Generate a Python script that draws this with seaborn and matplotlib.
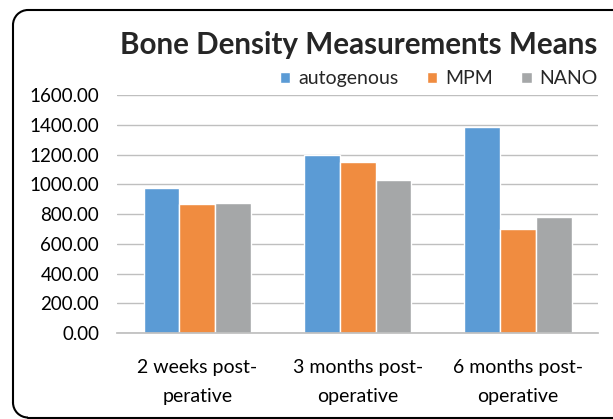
import pandas as pd
import matplotlib.pyplot as plt
import matplotlib.patches as mpatches
from matplotlib.lines import Line2D
from matplotlib.ticker import FuncFormatter
import seaborn as sns

# chart data
periods = ["2 weeks post-\nperative", "3 months post-\noperative", "6 months post-\noperative"]
groups = ["autogenous", "MPM", "NANO"]
autogenous = [978, 1200, 1388]
mpm = [868, 1153, 700]
nano = [878, 1030, 780]
colors = ["#5B9BD5", "#F08C40", "#A5A7A8"]

def main():
    rows = []
    for g, vals in zip(groups, [autogenous, mpm, nano]):
        for p, v in zip(periods, vals):
            rows.append({"period": p, "group": g, "value": v})
    df = pd.DataFrame(rows)

    sns.set_theme(style="white")
    plt.rcParams["font.family"] = ["Lato", "DejaVu Sans"]

    fig = plt.figure(figsize=(6.13, 4.19), dpi=100)
    ax = fig.add_axes([0.191, 0.205, 0.785, 0.568])

    sns.barplot(data=df, x="period", y="value", hue="group", order=periods,
                hue_order=groups, palette=colors, width=0.67, saturation=1,
                errorbar=None, ax=ax)

    ax.set_ylim(0, 1600)
    ax.set_yticks(range(0, 1601, 200))
    ax.yaxis.set_major_formatter(FuncFormatter(lambda v, _: f"{v:.2f}"))
    ax.grid(axis="y", color="#BFBFBF", linewidth=1)
    ax.set_axisbelow(True)
    for s in ["top", "right", "left"]:
        ax.spines[s].set_visible(False)
    ax.spines["bottom"].set_color("#BFBFBF")
    ax.set_xlabel("")
    ax.set_ylabel("")
    ax.tick_params(axis="y", length=0, labelsize=13.5, colors="black", pad=13)
    ax.tick_params(axis="x", length=0, labelsize=14, colors="black", pad=19)
    for lbl in ax.get_xticklabels():
        lbl.set_linespacing(1.8)

    # legend above the plot
    ax.legend(loc="lower right", bbox_to_anchor=(1.015, 1.0), ncol=3, frameon=False,
              fontsize=14, handlelength=0.55, handleheight=0.55, handletextpad=0.4,
              columnspacing=1.45, borderaxespad=0.0)

    fig.text(0.585, 0.893, "Bone Density Measurements Means", ha="center",
             va="center", fontsize=21.3, fontweight="bold")

    # frame: left, top and bottom edges with rounded corners (inches)
    x0, x1, yb, yt, r = 0.13, 6.2, 0.015, 4.09, 0.15
    tr = fig.dpi_scale_trans
    segs = [([x0 + r, x1], [yt, yt]), ([x0, x0], [yb + r, yt - r]), ([x0 + r, x1], [yb, yb])]
    for xs, ys in segs:
        fig.add_artist(Line2D(xs, ys, transform=tr, color="black", linewidth=1.5))
    fig.add_artist(mpatches.Arc((x0 + r, yt - r), 2 * r, 2 * r, theta1=90, theta2=180,
                                transform=tr, color="black", linewidth=1.5))
    fig.add_artist(mpatches.Arc((x0 + r, yb + r), 2 * r, 2 * r, theta1=180, theta2=270,
                                transform=tr, color="black", linewidth=1.5))

    fig.savefig("out.png", dpi=100)

if __name__ == "__main__":
    main()
